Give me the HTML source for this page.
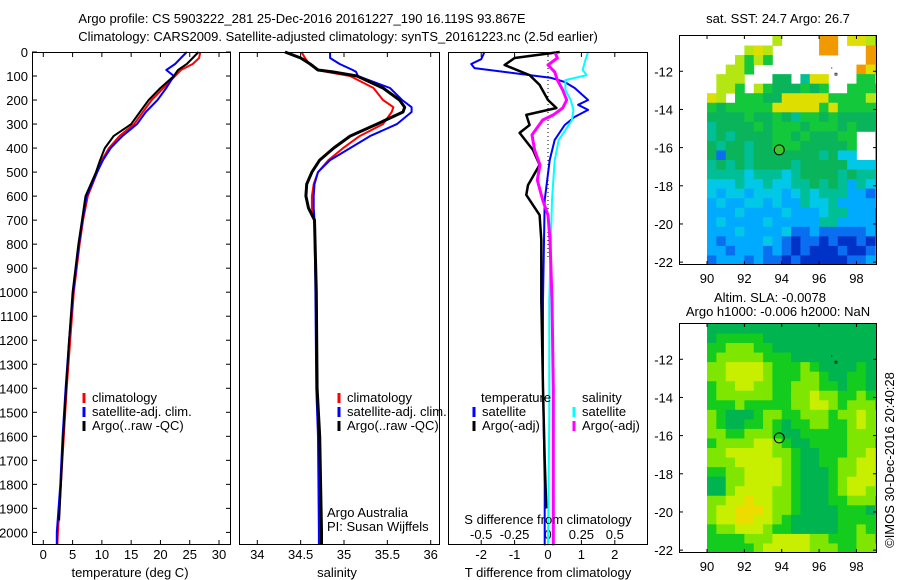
<!DOCTYPE html>
<html><head><meta charset="utf-8"><style>
html,body{margin:0;padding:0;background:#fff;}
svg{display:block;font-family:"Liberation Sans",Arial,sans-serif;font-size:13px;}
</style></head><body>
<svg id="fig" width="900" height="580" viewBox="0 0 900 580" xmlns="http://www.w3.org/2000/svg">
<text x="302" y="23" text-anchor="middle">Argo profile: CS 5903222_281 25-Dec-2016 20161227_190 16.119S 93.867E</text>
<text x="338" y="41" text-anchor="middle">Climatology: CARS2009. Satellite-adjusted climatology: synTS_20161223.nc (2.5d earlier)</text>
<g id="g1"></g>
<g id="g2"></g>
<g id="g3"></g>
<g id="m1"></g>
<g id="m2"></g>
<text transform="translate(894,460) rotate(-90)" text-anchor="middle">©IMOS 30-Dec-2016 20:40:28</text>
</svg>
<script>
// ---- data ----
const depthT = [0,25,50,75,100,150,200,250,300,350,400,450,500,600,700,800,900,1000,1200,1400,1600,1800,2000,2050];
const tempClim = [26.8,26.6,25.5,23.5,22.5,20.5,18.5,17,15.5,13,11.2,10,9.2,7.6,6.8,6.2,5.7,5.2,4.6,4.0,3.5,3.0,2.5,2.4];
const tempSat  = [24.5,23.5,22.5,21.0,22.3,21,19.5,17.5,16,13.5,11.5,10.2,9.2,7.4,6.7,6.1,5.6,5.1,4.4,3.8,3.3,2.9,2.3,2.3];
const depthTA = [0,25,50,75,100,150,200,250,300,350,400,450,500,600,700,800,900,1000,1200,1400,1600,1800,1950];
const tempArgo = [26.5,25.5,24.5,23,22.3,20,18,16.5,15,12,10.5,9.7,9,7.2,6.6,6,5.5,5.0,4.4,3.9,3.4,3.0,2.7];

const depthS = [0,25,50,75,83,100,150,200,230,250,300,350,400,450,500,550,600,650,700,1000,1400,1600,2000,2050];
const salClim = [34.51,34.55,34.6,34.7,34.8,35.07,35.34,35.45,35.57,35.55,35.45,35.18,34.99,34.82,34.7,34.65,34.63,34.63,34.66,34.68,34.69,34.71,34.73,34.73];
const salSat  = [34.84,34.84,34.95,35.1,35.14,35.16,35.53,35.67,35.78,35.78,35.61,35.30,35.07,34.84,34.7,34.66,34.65,34.65,34.66,34.67,34.68,34.7,34.71,34.71];
const salArgo = [34.32,34.5,34.61,34.7,34.87,35.15,35.45,35.64,35.70,35.68,35.38,35.07,34.88,34.72,34.63,34.57,34.56,34.59,34.66,34.68,34.69,34.72,34.74,34.74];

const depthD1 = [0,30,50,67,108,125,150,200,220,241,270,304,366,450,616,1032,1400,1800,2054];
const dTsat   = [-1.9,-2.0,-2.3,-2.2,0.1,0.5,0.8,1.2,0.9,1.2,0.8,0.5,0.2,0.05,-0.1,-0.15,-0.15,-0.1,-0.1];
const depthD2 = [0,25,54,96,137,200,233,262,304,337,408,470,554,595,679,783,1032,1400,1700,1900];
const dTargo  = [0.35,-1.0,-1.3,-0.55,-0.25,0,0.25,-0.65,-0.55,-0.85,-0.45,-0.25,-0.6,-0.65,-0.25,-0.2,-0.2,-0.15,-0.1,-0.05];
const depthD3 = [0,33,75,96,117,158,200,241,283,325,366,450,616,1032,1500,2054];
const dSsat   = [0.30,0.28,0.26,0.29,0.13,0.13,0.17,0.19,0.18,0.13,0.08,0.05,0.03,0.01,0.01,0.0];
const depthD4 = [0,25,54,83,117,158,200,233,262,283,345,408,470,533,616,679,783,1032,1400,2054];
const dSargo  = [0.05,0.07,0,0.05,0.07,0.11,0.14,0.11,0.04,-0.04,-0.12,-0.1,-0.06,-0.08,-0.04,0,0.015,0.03,0.04,0.04];

const depthTicks = [0,100,200,300,400,500,600,700,800,900,1000,1100,1200,1300,1400,1500,1600,1700,1800,1900,2000];
const tempTicks = [0,5,10,15,20,25,30];
const salTicks = [34,34.5,35,35.5,36];
const tdTicks = [-2,-1,0,1,2];
const sdTicks = [-0.5,-0.25,0,0.25,0.5];
const sdTickLabels = ["-0.5","-0.25","0","0.25","0.5"];
const lonTicks = [90,92,94,96,98];
const latTicks = [-12,-14,-16,-18,-20,-22];
const argoLon = 93.867, argoLat = -16.119;

const sstGrid = [
"       l    oo yylg",
"    lyl     oo   oo",
"   lglg          oo",
"  llg           oyo",
" lll   GG tyy   ggl",
" llg lgGGGgGg  gggg",
"yl gggGGyyyyyggggly",
"gGgggggyyyyygyggggg",
"GGGGgGGgGtggGgGGGGG",
"tGGGGgGgggGgggGgGGG",
"tGtGGGGggGgGGGgg  c",
"GtGGtGGgggGGGGGg  c",
"GBGGtGGGGGGGtGcc  c",
"tGtGtGGGGtGGGGGccct",
"ttttctttctGGGGtGttt",
"ccctcctccttGtGtbtct",
"cbccbcccbctctttbbBb",
"bcbbccbcbbtcctbbbbb",
"bbbcbbbbcbbbcttbbbB",
"bcbbbbcbbbbbttbbbbB",
"bbbcbbbbcBBbBBBBBbB",
"bBbbbbcbBDBBDBDDBDB",
"bbBbbbBbBDBDDDBDDBb",
"BbbbBbBBDBDDDDDBBbb"];
const slaGrid = [
"GGGGGGGGGGGGGGGGGGG",
"GgggggGGGGGGGGGGGGG",
"gglllggGGGGGGGGGGGG",
"glllllgggGGGGGGGGGG",
"llyyyylggglgGGGGgGG",
"llyyyylgggllgGGggGG",
"gllyyllgglllggGggGG",
"gllllllggllyllgglgg",
"ggglgggggllyylglllg",
"lgGGGgllgglllgllyll",
"lgGGgglgGggllgglyll",
"llgglllgGGgggggllll",
"gllllyylgGGgggglllg",
"llyyyyyllgGGgggllyl",
"lllyyyyylgGGggllyyl",
"ggllyyyylgGGGgllyyl",
"GGllyyyylgGGGglyyyl",
"GGlyyyyllgGGGglyyll",
"llyyYyyllgGGGgglllg",
"lyyYYYyllgGGGGgggGg",
"lyyYYyylgGGGGGggggg",
"gllyyylggGGGGGgglgg",
"gggglllyyyyllgggllg",
"ggggglyyyyylllgglll"];
const sstColors = {o:"#f09a00",y:"#dede00",l:"#b4e614",g:"#14c83c",G:"#0ab45a",t:"#00be96",c:"#00c8e6",b:"#00aaff",B:"#0a6ef0",D:"#0032c8"};
const slaColors = {G:"#00b450",g:"#14cc1e",l:"#7ee600",y:"#c8ee00",Y:"#ecdc00"};

// ---- helpers ----
const NS="http://www.w3.org/2000/svg";
function mk(parent,tag,attrs,txt){const e=document.createElementNS(NS,tag);for(const k in attrs)e.setAttribute(k,attrs[k]);if(txt!==undefined)e.textContent=txt;parent.appendChild(e);return e;}
const top0=52, bot0=545;
const yD = d => top0 + d*0.2402;
function lineX(g,x,y1,x2,y2,c,w){return mk(g,"line",{x1:x,y1:y1,x2:x2,y2:y2,stroke:c||"#000","stroke-width":w||1});}
function series(g,name,depths,vals,xf,color,w,dash){
  let p="";depths.forEach((d,i)=>{p+=(i?"L":"M")+xf(vals[i]).toFixed(1)+","+yD(d).toFixed(1);});
  const e=mk(g,"path",{d:p,fill:"none",stroke:color,"stroke-width":w,"stroke-linejoin":"round"});
  if(dash)e.setAttribute("stroke-dasharray",dash);
  
  
  return e;
}
function frame(g,x0,x1,name){
  const r=mk(g,"rect",{x:x0+0.5,y:top0+0.5,width:x1-x0-1,height:bot0-top0-1,fill:"none",stroke:"#000","stroke-width":1});
  
  
}
function legend(g,x,y,items){
  items.forEach((it,i)=>{
    const yy=y+i*14;
    lineX(g,x,yy-9,x,yy+1,it[1],3);
    const t=mk(g,"text",{x:x+8,y:yy},it[0]);
    
    
  });
}

// ---- panel 1: temperature ----
(function(){
  const g=document.getElementById("g1"); const x0=32,x1=231;
  const xf=v=>43.3+v*5.857;
  depthTicks.forEach(d=>{
    const y=yD(d);
    lineX(g,x0,y,x0+5,y); lineX(g,x1-5,y,x1,y);
    const t=mk(g,"text",{x:28,y:y+5,"text-anchor":"end"},String(d));
    
    
  });
  tempTicks.forEach(v=>{
    const x=xf(v); lineX(g,x,bot0-5,x,bot0); lineX(g,x,top0,x,top0+5);
    const t=mk(g,"text",{x:x,y:bot0+14,"text-anchor":"middle"},String(v));
    
    
  });
  series(g,"temp-climatology-line",depthT,tempClim,xf,"#f00",2);
  series(g,"temp-satellite-line",depthT,tempSat,xf,"#00f",2);
  series(g,"temp-argo-line",depthTA,tempArgo,xf,"#000",2);
  frame(g,x0,x1,"temperature-axes-frame");
  const t=mk(g,"text",{x:130,y:577,"text-anchor":"middle"},"temperature (deg C)");
  
  
  legend(g,84,402,[["climatology","#f00"],["satellite-adj. clim.","#00f"],["Argo(..raw -QC)","#000"]]);
})();

// ---- panel 2: salinity ----
(function(){
  const g=document.getElementById("g2"); const x0=239,x1=440;
  const xf=v=>257.3+(v-34)*86.7;
  salTicks.forEach(v=>{
    const x=xf(v); lineX(g,x,bot0-5,x,bot0); lineX(g,x,top0,x,top0+5);
    const t=mk(g,"text",{x:x,y:bot0+14,"text-anchor":"middle"},String(v));
    
    
  });
  series(g,"sal-climatology-line",depthS,salClim,xf,"#f00",2);
  series(g,"sal-satellite-line",depthS,salSat,xf,"#00f",2);
  series(g,"sal-argo-line",depthS,salArgo,xf,"#000",3);
  frame(g,x0,x1,"salinity-axes-frame");
  const t=mk(g,"text",{x:337,y:577,"text-anchor":"middle"},"salinity");
  
  
  legend(g,339,402,[["climatology","#f00"],["satellite-adj. clim.","#00f"],["Argo(..raw -QC)","#000"]]);
  const a=mk(g,"text",{x:327,y:517},"Argo Australia");
  
  
  const b=mk(g,"text",{x:327,y:531},"PI: Susan Wijffels");
  
  
})();

// ---- panel 3: differences ----
(function(){
  const g=document.getElementById("g3"); const x0=448,x1=648;
  const xT=v=>548+v*33.4, xS=v=>548+v*133.6;
  tdTicks.forEach(v=>{
    const x=xT(v); lineX(g,x,bot0-5,x,bot0); lineX(g,x,top0,x,top0+5);
    const t=mk(g,"text",{x:x,y:bot0+14,"text-anchor":"middle"},String(v));
    
    
  });
  sdTicks.forEach((v,i)=>{
    const t=mk(g,"text",{x:xS(v),y:539,"text-anchor":"middle"},sdTickLabels[i]);
    
    
  });
  const z=mk(g,"line",{x1:548,y1:top0,x2:548,y2:260,stroke:"#000","stroke-width":1,"stroke-dasharray":"1,3"});
  
  
  series(g,"tdiff-satellite-line",depthD1,dTsat,xT,"#00f",2);
  series(g,"tdiff-argo-line",depthD2,dTargo,xT,"#000",2.5);
  series(g,"sdiff-satellite-line",depthD3,dSsat,xS,"#0ff",2);
  series(g,"sdiff-argo-line",depthD4,dSargo,xS,"#f0f",3);
  frame(g,x0,x1,"difference-axes-frame");
  const s=mk(g,"text",{x:548,y:524,"text-anchor":"middle"},"S difference from climatology");
  
  
  const t=mk(g,"text",{x:548,y:577,"text-anchor":"middle"},"T difference from climatology");
  
  
  const h1=mk(g,"text",{x:481,y:402},"temperature");
  
  
  const h2=mk(g,"text",{x:582,y:402},"salinity");
  
  
  legend(g,474,416,[["satellite","#00f"],["Argo(-adj)","#000"]]);
  legend(g,574,416,[["satellite","#0ff"],["Argo(-adj)","#f0f"]]);
})();

// ---- maps ----
function drawMap(id,grid,colors,top,bot,name){
  const g=document.getElementById(id);
  const L=679,R=877, lon0=88.5,lon1=99.1, latT=-10.1, latB=-22.15;
  const xf=v=>L+(v-lon0)/(lon1-lon0)*(R-L);
  const yf=v=>top+(latT-v)/(latT-latB)*(bot-top);
  const cl=mk(g,"clipPath",{id:id+"clip"});mk(cl,"rect",{x:L,y:top,width:R-L,height:bot-top});
  const cells=mk(g,"g",{"clip-path":"url(#"+id+"clip)"});
  grid.forEach((row,r)=>{
    for(let c=0;c<row.length;c++){
      const ch=row[c]; if(ch===" ")continue;
      const lo=90+c*0.5, la=-10.15-r*0.5;
      const x=xf(lo), y=yf(la);
      const cell=mk(cells,"rect",{x:x.toFixed(2),y:y.toFixed(2),width:(xf(lo+0.5)-x+0.4).toFixed(2),height:(yf(la-0.5)-y+0.4).toFixed(2),fill:colors[ch]});
      
      
    }
  });
  lonTicks.forEach(v=>{
    const x=xf(v); lineX(g,x,bot-4,x,bot); lineX(g,x,top,x,top+4);
    const t=mk(g,"text",{x:x,y:bot+18,"text-anchor":"middle"},String(v));
    
    
  });
  latTicks.forEach(v=>{
    const y=yf(v); lineX(g,L,y,L+4,y); lineX(g,R-4,y,R,y);
    const t=mk(g,"text",{x:673,y:y+5,"text-anchor":"end"},String(v));
    
    
  });
  const c=mk(g,"circle",{cx:xf(argoLon),cy:yf(argoLat),r:5,fill:id==="m1"?"#3cc828":"none",stroke:"#000","stroke-width":1});
  
  
  mk(g,"rect",{x:xf(96.65),y:yf(-11.8),width:1,height:1,fill:"#000"});
  mk(g,"rect",{x:xf(96.85),y:yf(-12.1),width:2,height:2,fill:"none",stroke:"#000","stroke-width":0.7});
  const f=mk(g,"rect",{x:L+0.5,y:top+0.5,width:R-L-1,height:bot-top-1,fill:"none",stroke:"#000"});
  
  
}
drawMap("m1",sstGrid,sstColors,35,265,"sst-map");
drawMap("m2",slaGrid,slaColors,323,553,"sla-map");
(function(){
  const g=document.getElementById("m1");
  const t=mk(g,"text",{x:778,y:23,"text-anchor":"middle"},"sat. SST: 24.7 Argo: 26.7");
  
  
  const g2=document.getElementById("m2");
  const a=mk(g2,"text",{x:770,y:302,"text-anchor":"middle"},"Altim. SLA: -0.0078");
  
  
  const b=mk(g2,"text",{x:778,y:316,"text-anchor":"middle"},"Argo h1000: -0.006 h2000: NaN");
  
  
})();
</script>
</body></html>
